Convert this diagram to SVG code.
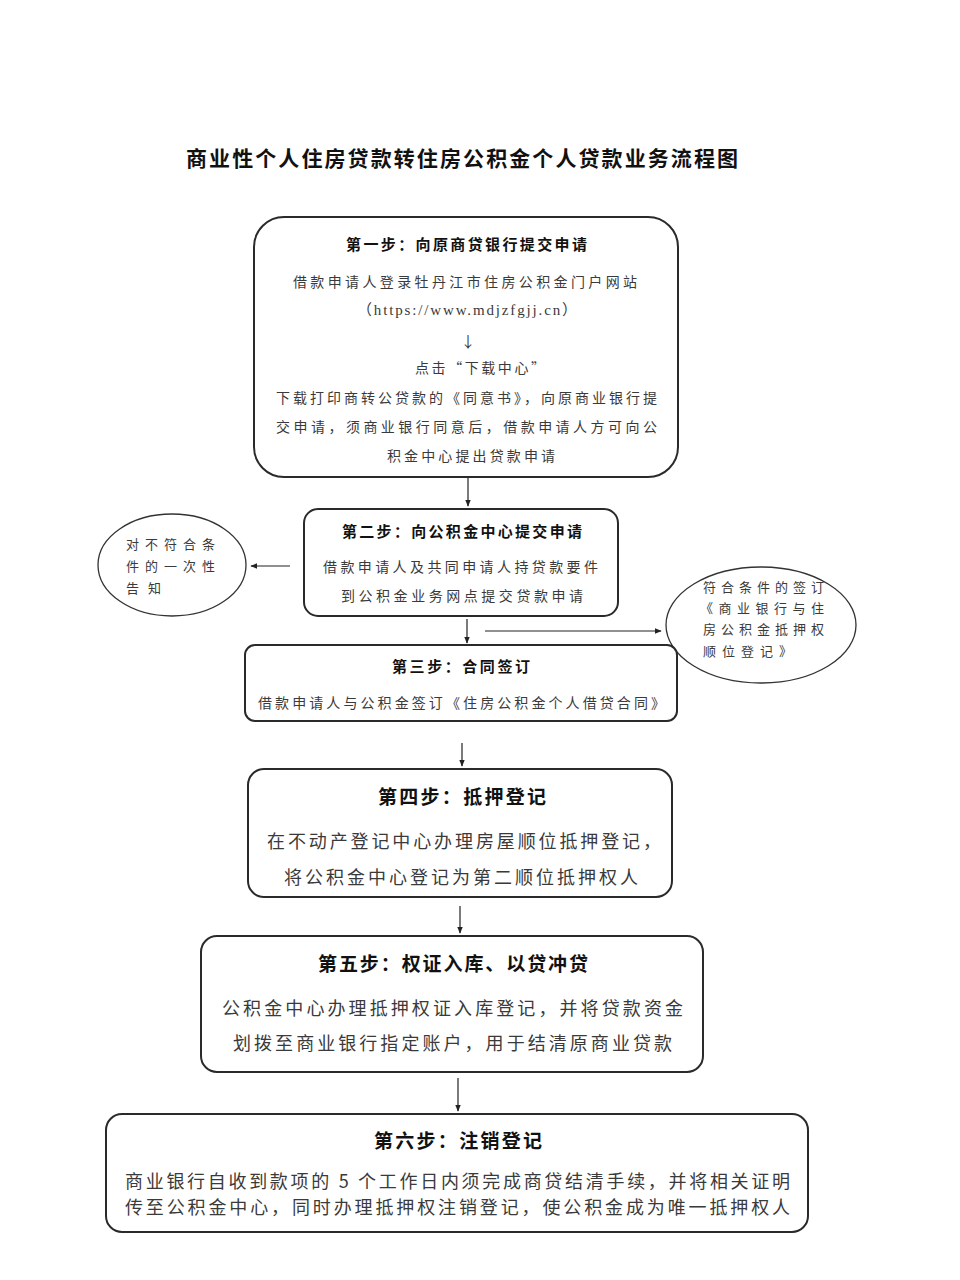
<svg xmlns="http://www.w3.org/2000/svg" width="960" height="1280" viewBox="0 0 960 1280">
<defs>
<marker id="ah" viewBox="0 0 10 10" refX="9" refY="5" markerWidth="7" markerHeight="7" markerUnits="userSpaceOnUse" orient="auto">
<path d="M0,1 L10,5 L0,9 z" fill="#222"/>
</marker>
<style>
.box{fill:#fff;stroke:#2a2a2a;stroke-width:2}
.ell{fill:#fff;stroke:#333;stroke-width:1.3}
.conn{stroke:#222;stroke-width:1.2;fill:none;marker-end:url(#ah)}
text{font-family:"Noto Sans CJK SC","Noto Sans CJK JP",sans-serif;dominant-baseline:central}
.t{font-weight:bold;fill:#111}
.b{fill:#3a3a3a}
.lat{font-family:"Liberation Serif","Noto Sans CJK SC",serif}
</style>
</defs>
<rect width="960" height="1280" fill="#fff"/>
<text class="t" x="186" y="157" font-size="21" textLength="552" lengthAdjust="spacing">商业性个人住房贷款转住房公积金个人贷款业务流程图</text>

<g id="connectors">
<line class="conn" x1="468" y1="478" x2="468" y2="506"/>
<line class="conn" x1="290" y1="566" x2="251" y2="566"/>
<line class="conn" x1="467" y1="619" x2="467" y2="643"/>
<line class="conn" x1="485" y1="631" x2="661" y2="631"/>
<line class="conn" x1="462" y1="743" x2="462" y2="766"/>
<line class="conn" x1="460" y1="906" x2="460" y2="933"/>
<line class="conn" x1="458" y1="1078" x2="458" y2="1111"/>
</g>

<g id="step1">
<rect class="box" x="254" y="217" width="424" height="260" rx="30"/>
<text class="t" x="346" y="243" font-size="15" textLength="241" lengthAdjust="spacing">第一步：向原商贷银行提交申请</text>
<text class="b" x="293" y="281" font-size="14" textLength="344" lengthAdjust="spacing">借款申请人登录牡丹江市住房公积金门户网站</text>
<text class="b lat" x="357" y="310" font-size="15" textLength="220" lengthAdjust="spacing">（https://www.mdjzfgjj.cn）</text>
<text class="b" x="468" y="340" font-size="15" text-anchor="middle">↓</text>
<text class="b" x="415" y="367" font-size="14" textLength="130" lengthAdjust="spacing">点击“下载中心”</text>
<text class="b" x="276" y="397" font-size="14" textLength="381" lengthAdjust="spacing">下载打印商转公贷款的《同意书》，向原商业银行提</text>
<text class="b" x="276" y="426" font-size="14" textLength="381" lengthAdjust="spacing">交申请，须商业银行同意后，借款申请人方可向公</text>
<text class="b" x="387" y="455" font-size="14" textLength="168" lengthAdjust="spacing">积金中心提出贷款申请</text>
</g>

<g id="step2">
<rect class="box" x="304" y="509" width="314" height="107" rx="14"/>
<text class="t" x="342" y="530" font-size="15" textLength="240" lengthAdjust="spacing">第二步：向公积金中心提交申请</text>
<text class="b" x="323" y="566" font-size="14" textLength="275" lengthAdjust="spacing">借款申请人及共同申请人持贷款要件</text>
<text class="b" x="341" y="595" font-size="14" textLength="242" lengthAdjust="spacing">到公积金业务网点提交贷款申请</text>
</g>

<g id="notice">
<ellipse class="ell" cx="172" cy="565" rx="74" ry="51"/>
<text class="b" x="126" y="543" font-size="13" textLength="89" lengthAdjust="spacing">对不符合条</text>
<text class="b" x="126" y="565" font-size="13" textLength="89" lengthAdjust="spacing">件的一次性</text>
<text class="b" x="126" y="587" font-size="13" textLength="35" lengthAdjust="spacing">告知</text>
</g>

<g id="sign-order">
<ellipse class="ell" cx="761" cy="625" rx="95" ry="58"/>
<text class="b" x="703" y="586" font-size="13" textLength="121" lengthAdjust="spacing">符合条件的签订</text>
<text class="b" x="700" y="607" font-size="13" textLength="124" lengthAdjust="spacing">《商业银行与住</text>
<text class="b" x="703" y="628" font-size="13" textLength="121" lengthAdjust="spacing">房公积金抵押权</text>
<text class="b" x="703" y="650" font-size="13" textLength="89" lengthAdjust="spacing">顺位登记》</text>
</g>

<g id="step3">
<rect class="box" x="245" y="645" width="432" height="76" rx="10"/>
<text class="t" x="392" y="665" font-size="15" textLength="138" lengthAdjust="spacing">第三步：合同签订</text>
<text class="b" x="258" y="702" font-size="14" textLength="407" lengthAdjust="spacing">借款申请人与公积金签订《住房公积金个人借贷合同》</text>
</g>

<g id="step4">
<rect class="box" x="248" y="769" width="424" height="128" rx="16"/>
<text class="t" x="378" y="795" font-size="19" textLength="168" lengthAdjust="spacing">第四步：抵押登记</text>
<text class="b" x="267" y="840" font-size="18" textLength="394" lengthAdjust="spacing">在不动产登记中心办理房屋顺位抵押登记，</text>
<text class="b" x="284" y="876" font-size="18" textLength="354" lengthAdjust="spacing">将公积金中心登记为第二顺位抵押权人</text>
</g>

<g id="step5">
<rect class="box" x="201" y="936" width="502" height="136" rx="16"/>
<text class="t" x="318" y="962" font-size="19" textLength="270" lengthAdjust="spacing">第五步：权证入库、以贷冲贷</text>
<text class="b" x="222" y="1007" font-size="18" textLength="461" lengthAdjust="spacing">公积金中心办理抵押权证入库登记，并将贷款资金</text>
<text class="b" x="233" y="1042" font-size="18" textLength="439" lengthAdjust="spacing">划拨至商业银行指定账户，用于结清原商业贷款</text>
</g>

<g id="step6">
<rect class="box" x="106" y="1114" width="702" height="118" rx="16"/>
<text class="t" x="374" y="1139" font-size="19" textLength="168" lengthAdjust="spacing">第六步：注销登记</text>
<text class="b" x="125" y="1180" font-size="18" textLength="665" lengthAdjust="spacing">商业银行自收到款项的 5 个工作日内须完成商贷结清手续，并将相关证明</text>
<text class="b" x="125" y="1206" font-size="18" textLength="665" lengthAdjust="spacing">传至公积金中心，同时办理抵押权注销登记，使公积金成为唯一抵押权人</text>
</g>
</svg>
